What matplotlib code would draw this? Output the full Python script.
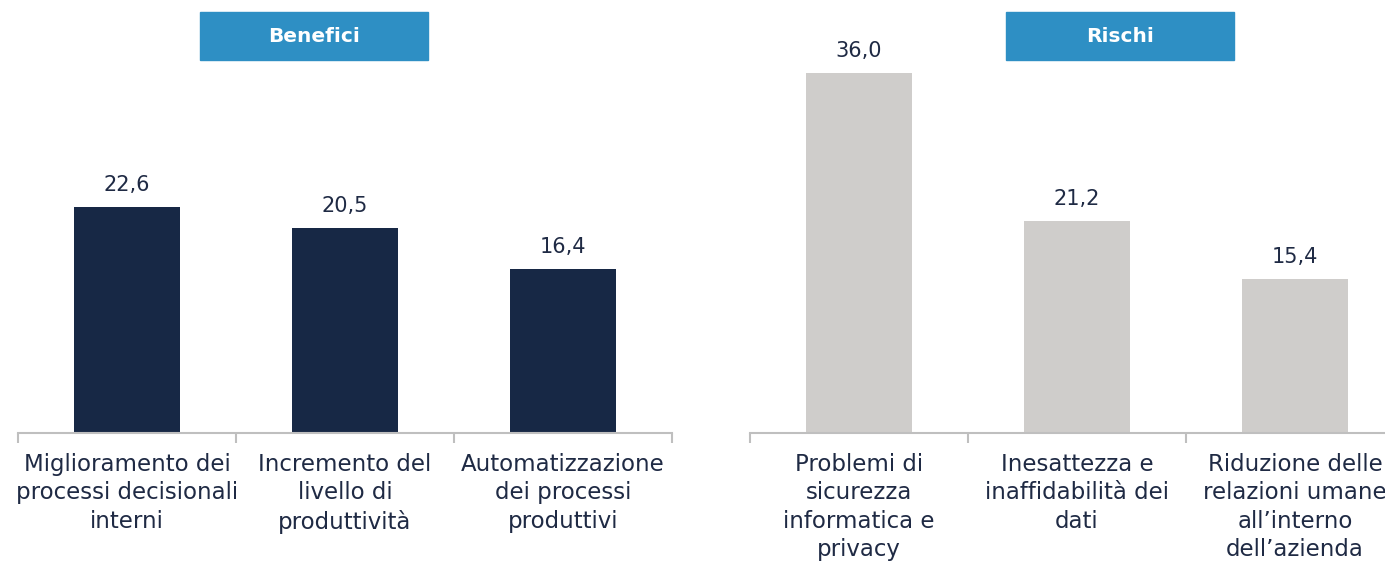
import matplotlib.pyplot as plt
import matplotlib.transforms as mtransforms

plt.rcParams['font.family'] = ['DejaVu Sans']

# dati
benefici_labels = ['Miglioramento dei\nprocessi decisionali\ninterni',
                   'Incremento del\nlivello di\nproduttività',
                   'Automatizzazione\ndei processi\nproduttivi']
benefici_values = [22.6, 20.5, 16.4]

rischi_labels = ['Problemi di\nsicurezza\ninformatica e\nprivacy',
                 'Inesattezza e\ninaffidabilità dei\ndati',
                 'Riduzione delle\nrelazioni umane\nall’interno\ndell’azienda']
rischi_values = [36.0, 21.2, 15.4]

text_col = '#1F2A44'
axis_col = '#BFBFBF'
box_col = '#2E8FC4'

fig = plt.figure(figsize=(13.85, 5.65), dpi=100)

W, H = 1385, 565


def pannello(x0, labels, values, color, title, box_x0):
    ax = fig.add_axes([x0 / W, 132 / H, 654 / W, 400 / H])
    xs = range(len(values))
    ax.bar(xs, values, width=0.49, color=color)
    ax.set_xlim(-0.5, len(values) - 0.5)
    ax.set_ylim(0, 40)
    for s in ['top', 'right', 'left']:
        ax.spines[s].set_visible(False)
    ax.spines['bottom'].set_color(axis_col)
    ax.spines['bottom'].set_linewidth(1.5)
    ax.set_yticks([])
    ax.set_xticks([i - 0.5 for i in range(len(values) + 1)])
    ax.set_xticklabels([])
    ax.tick_params(axis='x', length=7, width=1.5, color=axis_col)
    for i, v in enumerate(values):
        ax.text(i, v + 1.2, f'{v:.1f}'.replace('.', ','), ha='center', va='bottom',
                fontsize=15, color=text_col)
    trans = mtransforms.blended_transform_factory(ax.transData, fig.transFigure)
    for i, lab in enumerate(labels):
        ax.text(i, 1 - 453 / H, lab, transform=trans, ha='center', va='top',
                fontsize=16.5, color=text_col, linespacing=1.3, clip_on=False)
    # riquadro titolo
    fig.patches.append(plt.Rectangle((box_x0 / W, 1 - 60 / H), 228 / W, 48 / H,
                                     transform=fig.transFigure, color=box_col))
    fig.text((box_x0 + 114) / W, 1 - 36 / H, title, ha='center', va='center',
             fontsize=14.5, fontweight='bold', color='white')
    return ax


pannello(18, benefici_labels, benefici_values, '#172845', 'Benefici', 200)
pannello(750, rischi_labels, rischi_values, '#CFCDCB', 'Rischi', 1006)

fig.savefig('out.png', dpi=100)
